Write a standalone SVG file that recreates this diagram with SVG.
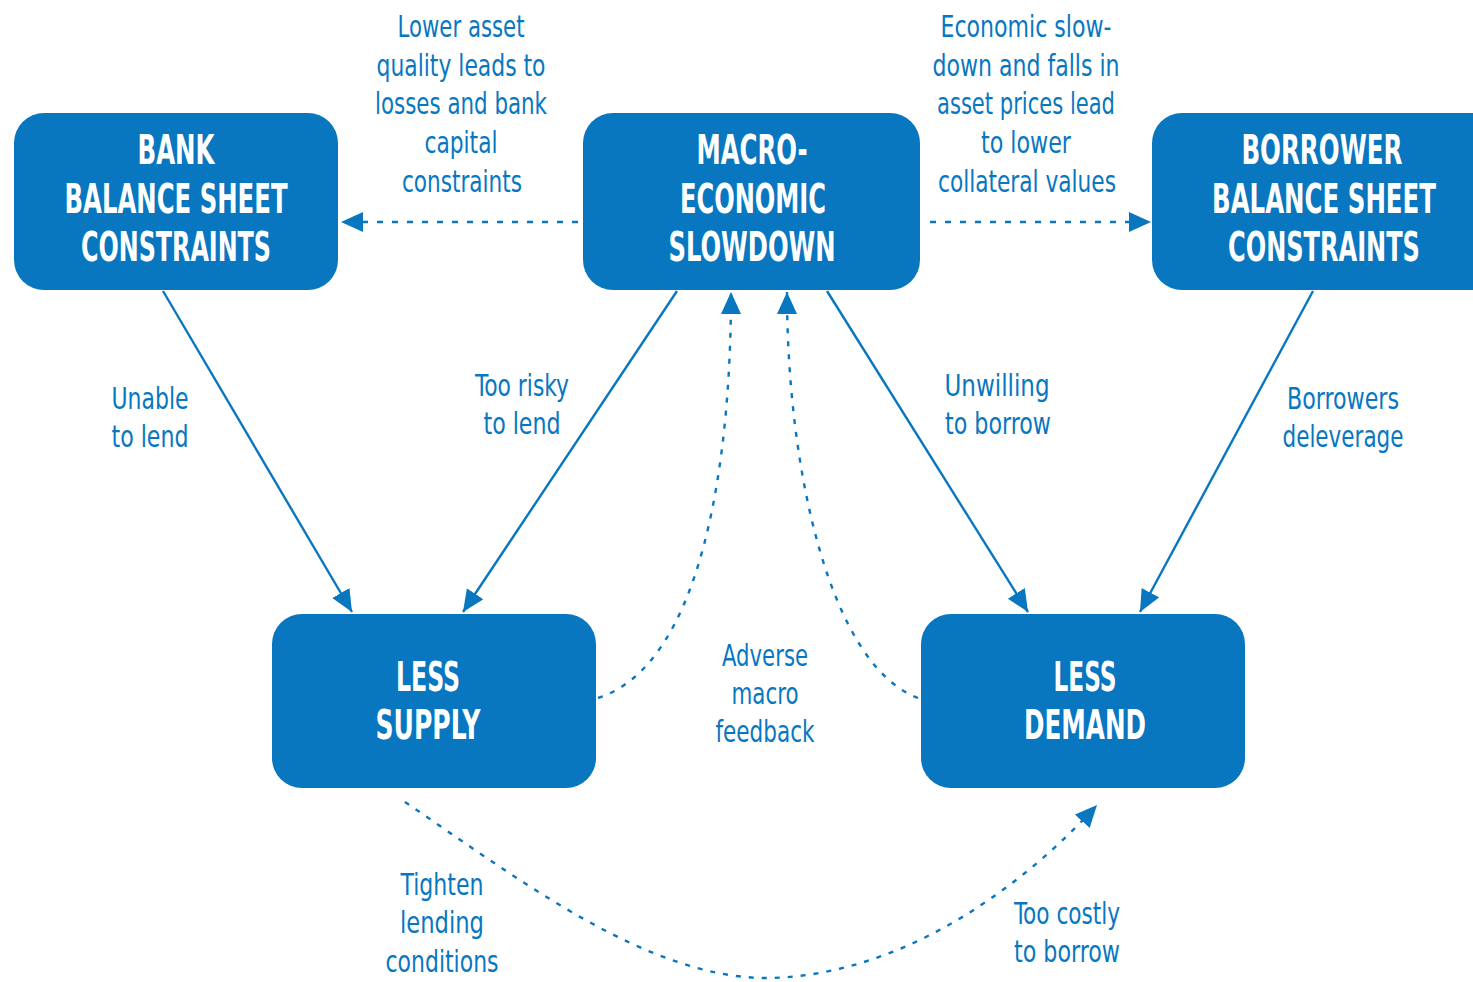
<svg xmlns="http://www.w3.org/2000/svg" width="1473" height="982" viewBox="0 0 1473 982">
<defs>
<marker id="ah" markerUnits="userSpaceOnUse" markerWidth="24" markerHeight="22" refX="22" refY="10" orient="auto" viewBox="0 0 24 22">
<path d="M0,0 L22,10 L0,20 z" fill="#0877c0"/>
</marker>
<style>
.box{fill:#0877c0;}
.nt{font-family:"DejaVu Sans Condensed","DejaVu Sans","Liberation Sans",sans-serif;font-weight:bold;font-size:40px;fill:#ffffff;text-anchor:middle;}
.lb{font-family:"DejaVu Sans Condensed","DejaVu Sans","Liberation Sans",sans-serif;font-size:30px;fill:#0877c0;text-anchor:middle;}
.sl{fill:none;stroke:#0877c0;stroke-width:2.4;}
.dl{fill:none;stroke:#0877c0;stroke-width:2.4;stroke-dasharray:6,9;}
.dc{fill:none;stroke:#0877c0;stroke-width:2.4;stroke-dasharray:5,8;}
</style>
</defs>
<rect width="1473" height="982" fill="#ffffff"/>

<g id="connectors">
<line class="dl" x1="578" y1="222" x2="341" y2="222" marker-end="url(#ah)"/>
<line class="dl" x1="930" y1="222" x2="1151" y2="222" marker-end="url(#ah)"/>
<line class="sl" x1="163" y1="291" x2="352" y2="612" marker-end="url(#ah)"/>
<line class="sl" x1="677" y1="291" x2="463" y2="612" marker-end="url(#ah)"/>
<line class="sl" x1="827" y1="291" x2="1028" y2="612" marker-end="url(#ah)"/>
<line class="sl" x1="1313" y1="291" x2="1140" y2="612" marker-end="url(#ah)"/>
<path class="dc" d="M598,698 C700,665 731,470 731,292" marker-end="url(#ah)"/>
<path class="dc" d="M918,698 C830,665 787,470 787,292" marker-end="url(#ah)"/>
<path class="dc" d="M405,802 C520,880 650,980 770,978 C900,975 1020,890 1097,805" marker-end="url(#ah)"/>
</g>

<g id="bank">
<rect class="box" x="14" y="113" width="324" height="177" rx="30"/>
<text class="nt" x="176" y="164" textLength="77" lengthAdjust="spacingAndGlyphs">BANK</text>
<text class="nt" x="176" y="213" textLength="223" lengthAdjust="spacingAndGlyphs">BALANCE SHEET</text>
<text class="nt" x="176" y="261" textLength="190" lengthAdjust="spacingAndGlyphs">CONSTRAINTS</text>
</g>

<g id="macro">
<rect class="box" x="583" y="113" width="337" height="177" rx="30"/>
<text class="nt" x="752" y="164" textLength="111" lengthAdjust="spacingAndGlyphs">MACRO-</text>
<text class="nt" x="753" y="213" textLength="146" lengthAdjust="spacingAndGlyphs">ECONOMIC</text>
<text class="nt" x="752" y="261" textLength="167" lengthAdjust="spacingAndGlyphs">SLOWDOWN</text>
</g>

<g id="borrower">
<path class="box" d="M1182,113 H1473 V290 H1182 A30,30 0 0 1 1152,260 V143 A30,30 0 0 1 1182,113 Z"/>
<g transform="translate(1324,0) scale(0.7,1)">
<text class="nt" x="-3" y="164" textLength="230" lengthAdjust="spacingAndGlyphs">BORROWER</text>
<text class="nt" x="0" y="213" textLength="320" lengthAdjust="spacingAndGlyphs">BALANCE SHEET</text>
<text class="nt" x="0" y="261" textLength="274" lengthAdjust="spacingAndGlyphs">CONSTRAINTS</text>
</g>
</g>

<g id="supply">
<rect class="box" x="272" y="614" width="324" height="174" rx="30"/>
<text class="nt" x="428" y="691" textLength="64" lengthAdjust="spacingAndGlyphs">LESS</text>
<text class="nt" x="428" y="739" textLength="105" lengthAdjust="spacingAndGlyphs">SUPPLY</text>
</g>

<g id="demand">
<rect class="box" x="921" y="614" width="324" height="174" rx="30"/>
<text class="nt" x="1085" y="691" textLength="63" lengthAdjust="spacingAndGlyphs">LESS</text>
<text class="nt" x="1085" y="739" textLength="122" lengthAdjust="spacingAndGlyphs">DEMAND</text>
</g>

<g id="labels">
<text class="lb" x="461" y="37" textLength="127" lengthAdjust="spacingAndGlyphs">Lower asset</text>
<text class="lb" x="461" y="76" textLength="169" lengthAdjust="spacingAndGlyphs">quality leads to</text>
<text class="lb" x="461" y="114" textLength="172" lengthAdjust="spacingAndGlyphs">losses and bank</text>
<text class="lb" x="461" y="153" textLength="73" lengthAdjust="spacingAndGlyphs">capital</text>
<text class="lb" x="462" y="192" textLength="120" lengthAdjust="spacingAndGlyphs">constraints</text>

<text class="lb" x="1026" y="37" textLength="171" lengthAdjust="spacingAndGlyphs">Economic slow-</text>
<text class="lb" x="1026" y="76" textLength="187" lengthAdjust="spacingAndGlyphs">down and falls in</text>
<text class="lb" x="1026" y="114" textLength="178" lengthAdjust="spacingAndGlyphs">asset prices lead</text>
<text class="lb" x="1026" y="153" textLength="90" lengthAdjust="spacingAndGlyphs">to lower</text>
<text class="lb" x="1027" y="192" textLength="178" lengthAdjust="spacingAndGlyphs">collateral values</text>

<text class="lb" x="150" y="409" textLength="77" lengthAdjust="spacingAndGlyphs">Unable</text>
<text class="lb" x="150" y="447" textLength="77" lengthAdjust="spacingAndGlyphs">to lend</text>

<text class="lb" x="522" y="396" textLength="94" lengthAdjust="spacingAndGlyphs">Too risky</text>
<text class="lb" x="522" y="434" textLength="77" lengthAdjust="spacingAndGlyphs">to lend</text>

<text class="lb" x="997" y="396" textLength="105" lengthAdjust="spacingAndGlyphs">Unwilling</text>
<text class="lb" x="998" y="434" textLength="106" lengthAdjust="spacingAndGlyphs">to borrow</text>

<text class="lb" x="1343" y="409" textLength="112" lengthAdjust="spacingAndGlyphs">Borrowers</text>
<text class="lb" x="1343" y="447" textLength="121" lengthAdjust="spacingAndGlyphs">deleverage</text>

<text class="lb" x="765" y="666" textLength="86" lengthAdjust="spacingAndGlyphs">Adverse</text>
<text class="lb" x="765" y="704" textLength="67" lengthAdjust="spacingAndGlyphs">macro</text>
<text class="lb" x="765" y="742" textLength="99" lengthAdjust="spacingAndGlyphs">feedback</text>

<text class="lb" x="442" y="895" textLength="83" lengthAdjust="spacingAndGlyphs">Tighten</text>
<text class="lb" x="442" y="933" textLength="84" lengthAdjust="spacingAndGlyphs">lending</text>
<text class="lb" x="442" y="972" textLength="113" lengthAdjust="spacingAndGlyphs">conditions</text>

<text class="lb" x="1067" y="924" textLength="106" lengthAdjust="spacingAndGlyphs">Too costly</text>
<text class="lb" x="1067" y="962" textLength="106" lengthAdjust="spacingAndGlyphs">to borrow</text>
</g>
</svg>
